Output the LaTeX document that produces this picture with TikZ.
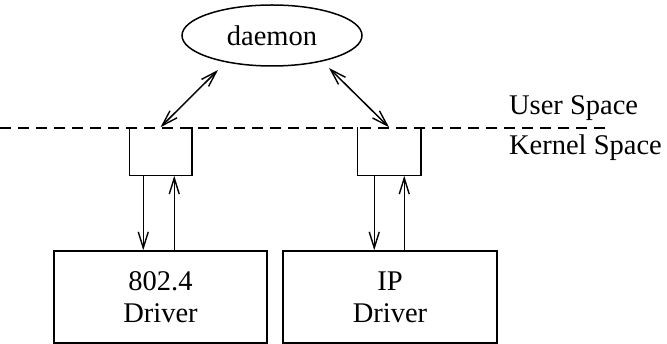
\documentclass[tikz,border=0pt]{standalone}
\usepackage{fontspec}
\setmainfont{Liberation Serif}
\usetikzlibrary{shapes.geometric,arrows.meta}
\begin{document}
\begin{tikzpicture}[x=1pt,y=-1pt,
  line width=1.5pt,
  txt/.style={font=\fontsize{28.5}{32}\selectfont},
  arr/.style={{Straight Barb[length=16pt,width=10pt,line width=1.4pt]}-{Straight Barb[length=16pt,width=10pt,line width=1.4pt]}},
  oneway/.style={-{Straight Barb[length=16pt,width=10pt,line width=1.4pt]}},
  kbox/.style={minimum width=61pt,minimum height=47pt,inner sep=0pt},
  drv/.style={draw,minimum width=213pt,minimum height=92pt,inner sep=0pt,align=center,txt}]
\useasboundingbox (0,0) rectangle (667,344);
\node[draw,ellipse,minimum width=180pt,minimum height=61pt,inner sep=0pt,txt] (daemon) at (272,35.5) {daemon};
\draw[line width=1.3pt,dash pattern=on 11pt off 7pt] (0,128) -- (605,128);
\node[txt,anchor=west] (us) at (505,108) {User Space};
\node[txt,anchor=west] (ks) at (505,148) {Kernel Space};
\node[kbox] (kbL) at (160.5,151.5) {};
\node[kbox,minimum width=62pt] (kbR) at (389,151.5) {};
\draw (kbL.north west) -- (kbL.south west) -- (kbL.south east) -- (kbL.north east);
\draw (kbR.north west) -- (kbR.south west) -- (kbR.south east) -- (kbR.north east);
\node[drv] (drvL) at (160.5,297) {802.4\\Driver};
\node[drv,minimum width=214pt] (drvR) at (390,297) {IP\\Driver};
\coordinate (dL) at (218,70);
\coordinate (dR) at (329,68);
\draw[arr] (dL) -- (kbL.north);
\draw[arr] (dR) -- (kbR.north);
\draw[oneway] ([xshift=14pt]kbL.south west) -- ([xshift=14pt]kbL.south west |- drvL.north);
\draw[oneway] ([xshift=45pt]kbL.south west |- drvL.north) -- ([xshift=45pt]kbL.south west);
\draw[oneway] ([xshift=17pt]kbR.south west) -- ([xshift=17pt]kbR.south west |- drvR.north);
\draw[oneway] ([xshift=47pt]kbR.south west |- drvR.north) -- ([xshift=47pt]kbR.south west);
\end{tikzpicture}
\end{document}
